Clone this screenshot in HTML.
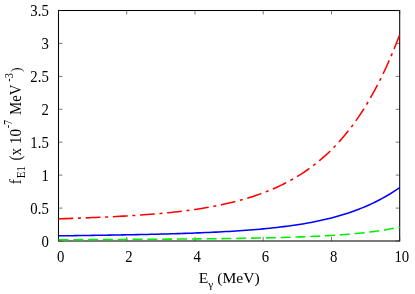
<!DOCTYPE html>
<html><head><meta charset="utf-8"><style>
html,body{margin:0;padding:0;background:#fff;}
svg{display:block;will-change:transform;}
text{font-family:"Liberation Serif",serif;font-size:15.7px;fill:#000}
</style></head><body>
<svg width="415" height="294" viewBox="0 0 415 294">
<rect width="415" height="294" fill="#fff"/>
<g stroke="#000" stroke-width="1.05" fill="none">
<rect x="58.5" y="10.5" width="341.20" height="230.50"/>
<g stroke-width="0.6" stroke="#222"><path d="M58.5,241.0 v-4 M58.5,10.5 v4"/><path d="M126.7,241.0 v-4 M126.7,10.5 v4"/><path d="M195.0,241.0 v-4 M195.0,10.5 v4"/><path d="M263.2,241.0 v-4 M263.2,10.5 v4"/><path d="M331.5,241.0 v-4 M331.5,10.5 v4"/><path d="M399.7,241.0 v-4 M399.7,10.5 v4"/><path d="M58.5,241.0 h4 M399.7,241.0 h-4"/><path d="M58.5,208.1 h4 M399.7,208.1 h-4"/><path d="M58.5,175.1 h4 M399.7,175.1 h-4"/><path d="M58.5,142.2 h4 M399.7,142.2 h-4"/><path d="M58.5,109.3 h4 M399.7,109.3 h-4"/><path d="M58.5,76.4 h4 M399.7,76.4 h-4"/><path d="M58.5,43.4 h4 M399.7,43.4 h-4"/><path d="M58.5,10.5 h4 M399.7,10.5 h-4"/></g>
</g>
<g fill="none" stroke-linecap="butt" stroke-linejoin="round">
<path d="M58.50,239.74 L61.91,239.73 L65.32,239.71 L68.74,239.69 L72.15,239.68 L75.56,239.66 L78.97,239.65 L82.38,239.63 L85.80,239.61 L89.21,239.60 L92.62,239.58 L96.03,239.56 L99.44,239.55 L102.86,239.53 L106.27,239.51 L109.68,239.49 L113.09,239.48 L116.50,239.46 L119.92,239.44 L123.33,239.42 L126.74,239.40 L130.15,239.38 L133.56,239.36 L136.98,239.34 L140.39,239.32 L143.80,239.30 L147.21,239.28 L150.62,239.26 L154.04,239.23 L157.45,239.21 L160.86,239.19 L164.27,239.16 L167.68,239.14 L171.10,239.11 L174.51,239.08 L177.92,239.06 L181.33,239.03 L184.74,239.00 L188.16,238.97 L191.57,238.94 L194.98,238.91 L198.39,238.87 L201.80,238.84 L205.22,238.80 L208.63,238.77 L212.04,238.73 L215.45,238.69 L218.86,238.65 L222.28,238.61 L225.69,238.56 L229.10,238.52 L232.51,238.47 L235.92,238.42 L239.34,238.37 L242.75,238.31 L246.16,238.26 L249.57,238.20 L252.98,238.13 L256.40,238.07 L259.81,238.00 L263.22,237.93 L266.63,237.86 L270.04,237.78 L273.46,237.70 L276.87,237.62 L280.28,237.53 L283.69,237.43 L287.10,237.33 L290.52,237.23 L293.93,237.12 L297.34,237.00 L300.75,236.88 L304.16,236.75 L307.58,236.62 L310.99,236.47 L314.40,236.32 L317.81,236.16 L321.22,235.99 L324.64,235.81 L328.05,235.62 L331.46,235.42 L334.87,235.20 L338.28,234.97 L341.70,234.73 L345.11,234.47 L348.52,234.19 L351.93,233.90 L355.34,233.58 L358.76,233.25 L362.17,232.90 L365.58,232.52 L368.99,232.11 L372.40,231.69 L375.82,231.23 L379.23,230.74 L382.64,230.23 L386.05,229.68 L389.46,229.10 L392.88,228.48 L396.29,227.83 L399.70,227.15" stroke="#00f000" stroke-width="1.55" stroke-dasharray="10,4.81"/>
<path d="M58.50,235.85 L61.91,235.81 L65.32,235.76 L68.74,235.71 L72.15,235.67 L75.56,235.62 L78.97,235.58 L82.38,235.53 L85.80,235.48 L89.21,235.43 L92.62,235.38 L96.03,235.33 L99.44,235.28 L102.86,235.23 L106.27,235.18 L109.68,235.12 L113.09,235.07 L116.50,235.01 L119.92,234.95 L123.33,234.89 L126.74,234.83 L130.15,234.77 L133.56,234.70 L136.98,234.63 L140.39,234.56 L143.80,234.49 L147.21,234.42 L150.62,234.34 L154.04,234.26 L157.45,234.18 L160.86,234.09 L164.27,234.00 L167.68,233.91 L171.10,233.81 L174.51,233.71 L177.92,233.61 L181.33,233.50 L184.74,233.39 L188.16,233.27 L191.57,233.15 L194.98,233.02 L198.39,232.89 L201.80,232.75 L205.22,232.60 L208.63,232.45 L212.04,232.30 L215.45,232.13 L218.86,231.96 L222.28,231.78 L225.69,231.59 L229.10,231.40 L232.51,231.19 L235.92,230.98 L239.34,230.76 L242.75,230.52 L246.16,230.27 L249.57,230.02 L252.98,229.75 L256.40,229.46 L259.81,229.17 L263.22,228.86 L266.63,228.53 L270.04,228.19 L273.46,227.83 L276.87,227.45 L280.28,227.05 L283.69,226.64 L287.10,226.20 L290.52,225.74 L293.93,225.25 L297.34,224.75 L300.75,224.21 L304.16,223.65 L307.58,223.05 L310.99,222.43 L314.40,221.77 L317.81,221.08 L321.22,220.35 L324.64,219.59 L328.05,218.78 L331.46,217.92 L334.87,217.03 L338.28,216.08 L341.70,215.08 L345.11,214.03 L348.52,212.93 L351.93,211.76 L355.34,210.53 L358.76,209.24 L362.17,207.88 L365.58,206.44 L368.99,204.94 L372.40,203.35 L375.82,201.69 L379.23,199.95 L382.64,198.12 L386.05,196.21 L389.46,194.21 L392.88,192.12 L396.29,189.95 L399.70,187.69" stroke="#0000ff" stroke-width="1.55"/>
<path d="M58.50,218.85 L61.91,218.73 L65.32,218.61 L68.74,218.49 L72.15,218.37 L75.56,218.24 L78.97,218.12 L82.38,217.99 L85.80,217.86 L89.21,217.73 L92.62,217.59 L96.03,217.45 L99.44,217.30 L102.86,217.15 L106.27,217.00 L109.68,216.84 L113.09,216.67 L116.50,216.50 L119.92,216.32 L123.33,216.13 L126.74,215.94 L130.15,215.73 L133.56,215.52 L136.98,215.30 L140.39,215.07 L143.80,214.83 L147.21,214.57 L150.62,214.31 L154.04,214.03 L157.45,213.74 L160.86,213.43 L164.27,213.11 L167.68,212.78 L171.10,212.43 L174.51,212.06 L177.92,211.67 L181.33,211.27 L184.74,210.84 L188.16,210.40 L191.57,209.94 L194.98,209.45 L198.39,208.94 L201.80,208.40 L205.22,207.84 L208.63,207.25 L212.04,206.63 L215.45,205.98 L218.86,205.31 L222.28,204.60 L225.69,203.85 L229.10,203.07 L232.51,202.25 L235.92,201.39 L239.34,200.49 L242.75,199.55 L246.16,198.56 L249.57,197.53 L252.98,196.44 L256.40,195.30 L259.81,194.11 L263.22,192.85 L266.63,191.54 L270.04,190.16 L273.46,188.72 L276.87,187.21 L280.28,185.62 L283.69,183.95 L287.10,182.20 L290.52,180.37 L293.93,178.44 L297.34,176.43 L300.75,174.31 L304.16,172.08 L307.58,169.75 L310.99,167.30 L314.40,164.72 L317.81,162.02 L321.22,159.18 L324.64,156.20 L328.05,153.07 L331.46,149.78 L334.87,146.32 L338.28,142.69 L341.70,138.87 L345.11,134.86 L348.52,130.64 L351.93,126.22 L355.34,121.56 L358.76,116.67 L362.17,111.52 L365.58,106.12 L368.99,100.44 L372.40,94.48 L375.82,88.21 L379.23,81.63 L382.64,74.72 L386.05,67.46 L389.46,59.84 L392.88,51.86 L396.29,43.48 L399.70,34.71" stroke="#ff0000" stroke-width="1.55" stroke-dasharray="14.8,4.7,3.0,4.7"/>
</g>
<text transform="translate(60.60,262.40)  scale(0.94,1)" text-anchor="middle">0</text><text transform="translate(128.84,262.40)  scale(0.94,1)" text-anchor="middle">2</text><text transform="translate(197.08,262.40)  scale(0.94,1)" text-anchor="middle">4</text><text transform="translate(265.32,262.40)  scale(0.94,1)" text-anchor="middle">6</text><text transform="translate(333.56,262.40)  scale(0.94,1)" text-anchor="middle">8</text><text transform="translate(401.80,262.40)  scale(0.94,1)" text-anchor="middle">10</text><text transform="translate(48.80,246.70)  scale(0.94,1)" text-anchor="end">0</text><text transform="translate(48.80,213.77)  scale(0.94,1)" text-anchor="end">0.5</text><text transform="translate(48.80,180.84)  scale(0.94,1)" text-anchor="end">1</text><text transform="translate(48.80,147.91)  scale(0.94,1)" text-anchor="end">1.5</text><text transform="translate(48.80,114.99)  scale(0.94,1)" text-anchor="end">2</text><text transform="translate(48.80,82.06)  scale(0.94,1)" text-anchor="end">2.5</text><text transform="translate(48.80,49.13)  scale(0.94,1)" text-anchor="end">3</text><text transform="translate(48.80,16.20)  scale(0.94,1)" text-anchor="end">3.5</text>
<text transform="translate(229.20,283.20)  scale(1.04,1)" text-anchor="middle"><tspan font-size="15">E</tspan><tspan font-size="11" dy="5">γ</tspan><tspan font-size="15" dy="-5"> (MeV)</tspan></text>
<text transform="translate(21.30,181.80) rotate(-90) scale(0.94,1)" text-anchor="middle" style="font-size:16px">f</text><text transform="translate(25.10,172.16) rotate(-90) scale(0.88,1)" text-anchor="middle" style="font-size:12.5px">E1</text><text transform="translate(21.30,154.34) rotate(-90) scale(0.94,1)" text-anchor="middle" style="font-size:16px">(x</text><text transform="translate(21.30,136.40) rotate(-90) scale(0.94,1)" text-anchor="middle" style="font-size:16px">10</text><text transform="translate(12.40,124.11) rotate(-90) scale(0.82,1)" text-anchor="middle" style="font-size:12.5px">-7</text><text transform="translate(21.30,99.80) rotate(-90) scale(0.93,1)" text-anchor="middle" style="font-size:16px">MeV</text><text transform="translate(12.50,77.50) rotate(-90) scale(0.82,1)" text-anchor="middle" style="font-size:12.5px">-3</text><text transform="translate(20.80,69.83) rotate(-90) scale(0.94,1)" text-anchor="middle" style="font-size:14.5px">)</text>
</svg>
</body></html>
